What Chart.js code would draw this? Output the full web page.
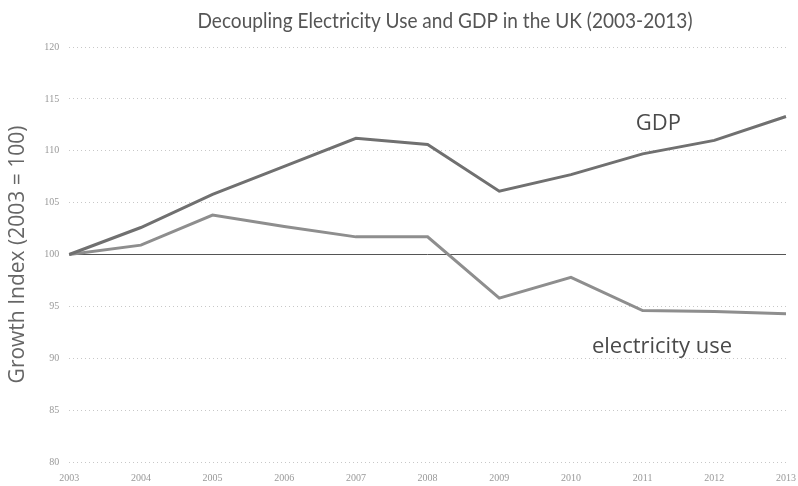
<!DOCTYPE html>
<html>
<head>
<meta charset="utf-8">
<script src="https://cdn.jsdelivr.net/npm/chart.js@4"></script>
<style>
  html, body { margin: 0; padding: 0; background: #fff; }
  .wrap { width: 798px; height: 486px; }
</style>
</head>
<body>
<div class="wrap"><canvas id="ukChart"></canvas></div>
<script>
// values (index, 2003 = 100)
const years = ['2003', '2004', '2005', '2006', '2007', '2008', '2009', '2010', '2011', '2012', '2013'];
const gdp = [100, 102.6, 105.8, 108.5, 111.2, 110.6, 106.1, 107.7, 109.7, 111.0, 113.3];
const electricity = [100, 100.9, 103.8, 102.7, 101.7, 101.7, 95.8, 97.8, 94.6, 94.5, 94.3];
const yTicks = [80, 85, 90, 95, 100, 105, 110, 115, 120];
const chartTitle = 'Decoupling Electricity Use and GDP in the UK (2003-2013)';

// title and line labels drawn on the canvas
const lineLabels = {
    id: 'lineLabels',
    afterDatasetsDraw(chart) {
        const { ctx, scales: { x, y } } = chart;
        ctx.save();
        ctx.textAlign = 'center';
        ctx.textBaseline = 'middle';

        // narrow the title a bit, the original font is condensed
        ctx.fillStyle = '#555';
        ctx.font = '22px Lato, sans-serif';
        const sx = 495 / ctx.measureText(chartTitle).width;
        ctx.save();
        ctx.translate(445, 21);
        ctx.scale(sx, 1);
        ctx.fillText(chartTitle, 0, 0);
        ctx.restore();

        ctx.fillStyle = '#4a4a4a';
        ctx.font = '22px "Open Sans", sans-serif';
        ctx.fillText('GDP', x.getPixelForValue(8.22), y.getPixelForValue(112.6));
        ctx.fillText('electricity use', x.getPixelForValue(8.27), y.getPixelForValue(91.1));
        ctx.restore();
    }
};

const ukChart = document.getElementById('ukChart').getContext('2d');
new Chart(ukChart, {
    type: 'line',
    data: {
        labels: years,
        datasets: [{
            label: 'GDP',
            data: gdp,
            borderColor: '#707070',
            borderWidth: 3,
            pointRadius: 0,
            tension: 0
        }, {
            label: 'electricity use',
            data: electricity,
            borderColor: '#8e8e8e',
            borderWidth: 3,
            pointRadius: 0,
            tension: 0
        }]
    },
    options: {
        responsive: true,
        maintainAspectRatio: false,
        animation: false,
        layout: {
            padding: { left: 5, right: 10, top: 47, bottom: 0 }
        },
        plugins: {
            legend: { display: false },
            tooltip: { enabled: false },
            title: { display: false }
        },
        scales: {
            x: {
                offset: false,
                grid: { display: false },
                border: { display: false },
                ticks: {
                    color: '#999',
                    maxRotation: 0,
                    padding: 2,
                    font: { family: '"Liberation Serif", serif', size: 10 }
                }
            },
            y: {
                min: 80,
                max: 120,
                afterBuildTicks: (axis) => {
                    axis.ticks = yTicks.map(v => ({ value: v }));
                },
                grid: {
                    drawTicks: false,
                    lineWidth: 1,
                    color: (c) => c.tick && c.tick.value === 100 ? '#555' : '#c8c8c8'
                },
                border: {
                    display: false,
                    dash: (c) => c.tick && c.tick.value === 100 ? [] : [1, 3]
                },
                ticks: {
                    color: '#999',
                    padding: 10,
                    font: { family: '"Liberation Serif", serif', size: 10 }
                },
                title: {
                    display: true,
                    text: 'Growth Index (2003 = 100)',
                    color: '#666',
                    font: { family: '"Open Sans", sans-serif', size: 21 },
                    padding: { top: 0, bottom: 4 }
                }
            }
        }
    },
    plugins: [lineLabels]
});
</script>
</body>
</html>
